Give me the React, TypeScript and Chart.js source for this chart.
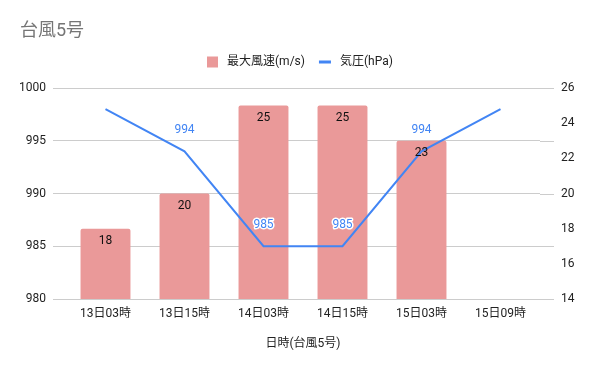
import React, { useEffect, useRef } from 'react';
import { Chart, registerables } from 'chart.js';

Chart.register(...registerables);

const chartTitle = '台風5号';
const xAxisTitle = '日時(台風5号)';
const categories = ['13日03時', '13日15時', '14日03時', '14日15時', '15日03時', '15日09時'];
const windLabel = '最大風速(m/s)';
const windSpeed: (number | null)[] = [18, 20, 25, 25, 23, null];
const pressureLabel = '気圧(hPa)';
const pressure = [998, 994, 985, 985, 994, 998];
const pressureLabelShown = [false, true, true, true, true, false];
const pressureRange = { min: 980, max: 1000, step: 5 };
const windRange = { min: 14, max: 26, step: 2 };

const FONT = "Roboto, 'Noto Sans CJK JP', sans-serif";
const BAR_COLOR = '#ea9999';
const LINE_COLOR = '#4285f4';
const GRID_COLOR = '#cccccc';
const TEXT_COLOR = '#222222';

const decorPlugin = {
  id: 'decor',
  afterDraw(chart: any) {
    const ctx = chart.ctx as CanvasRenderingContext2D;
    const area = chart.chartArea;
    const yScale = chart.scales.y;
    ctx.save();

    // extend grid lines to the right side
    ctx.strokeStyle = GRID_COLOR;
    ctx.lineWidth = 1;
    yScale.ticks.forEach((t: any) => {
      const y = Math.round(yScale.getPixelForValue(t.value)) + 0.5;
      ctx.beginPath();
      ctx.moveTo(area.right, y);
      ctx.lineTo(area.right + 14, y);
      ctx.stroke();
    });

    // bar value labels
    ctx.font = `12px ${FONT}`;
    ctx.textAlign = 'center';
    ctx.textBaseline = 'middle';
    const barMeta = chart.getDatasetMeta(1);
    barMeta.data.forEach((el: any, i: number) => {
      const v = windSpeed[i];
      if (v == null) return;
      ctx.fillStyle = '#111111';
      ctx.fillText(String(v), el.x, el.y + 12);
    });

    // line value labels
    const lineMeta = chart.getDatasetMeta(0);
    lineMeta.data.forEach((el: any, i: number) => {
      if (!pressureLabelShown[i]) return;
      const txt = String(pressure[i]);
      ctx.lineWidth = 3;
      ctx.strokeStyle = '#ffffff';
      ctx.lineJoin = 'round';
      ctx.strokeText(txt, el.x, el.y - 21);
      ctx.fillStyle = LINE_COLOR;
      ctx.fillText(txt, el.x, el.y - 21);
    });

    // title
    ctx.font = `18px ${FONT}`;
    ctx.fillStyle = '#757575';
    ctx.textAlign = 'left';
    ctx.textBaseline = 'middle';
    ctx.fillText(chartTitle, 20, 31);

    // legend
    ctx.font = `12px ${FONT}`;
    const w1 = ctx.measureText(windLabel).width;
    const w2 = ctx.measureText(pressureLabel).width;
    const total = 11 + 9 + w1 + 14 + 12 + 9 + w2;
    let x = Math.round(300 - total / 2);
    const ly = 62;
    ctx.fillStyle = BAR_COLOR;
    ctx.fillRect(x, ly - 5.5, 11, 11);
    x += 20;
    ctx.fillStyle = TEXT_COLOR;
    ctx.fillText(windLabel, x, ly);
    x += w1 + 14;
    ctx.fillStyle = LINE_COLOR;
    ctx.fillRect(x, ly - 1.5, 12, 3);
    x += 21;
    ctx.fillStyle = TEXT_COLOR;
    ctx.fillText(pressureLabel, x, ly);

    ctx.restore();
  },
};

export default function App() {
  const ref = useRef<HTMLCanvasElement>(null);
  useEffect(() => {
    const chart = new Chart(ref.current as HTMLCanvasElement, {
      type: 'bar',
      data: {
        labels: categories,
        datasets: [
          {
            type: 'line',
            label: pressureLabel,
            data: pressure,
            yAxisID: 'y',
            borderColor: LINE_COLOR,
            backgroundColor: LINE_COLOR,
            borderWidth: 2,
            pointRadius: 0,
            tension: 0,
            order: 0,
          } as any,
          {
            type: 'bar',
            label: windLabel,
            data: windSpeed,
            yAxisID: 'y1',
            backgroundColor: BAR_COLOR,
            borderRadius: 2,
            barPercentage: 0.8,
            categoryPercentage: 0.79,
            order: 1,
          } as any,
        ],
      },
      options: {
        responsive: false,
        animation: false,
        layout: { padding: { top: 88, left: 0, right: 0, bottom: 0 } },
        plugins: {
          legend: { display: false },
          title: { display: false },
          tooltip: { enabled: false },
        },
        scales: {
          x: {
            grid: { display: false, drawTicks: false },
            border: { display: false },
            ticks: { padding: 8, color: TEXT_COLOR, font: { family: FONT, size: 12 }, maxRotation: 0 },
            title: {
              display: true,
              text: xAxisTitle,
              color: TEXT_COLOR,
              font: { family: FONT, size: 12 },
              padding: { top: 0, bottom: 20 },
            },
            afterFit: (s: any) => {
              s.height = 72;
            },
          },
          y: {
            position: 'left',
            min: pressureRange.min,
            max: pressureRange.max,
            ticks: {
              stepSize: pressureRange.step,
              padding: 7,
              color: TEXT_COLOR,
              font: { family: FONT, size: 12 },
              callback: (v: any) => String(v),
            },
            grid: { color: GRID_COLOR, tickColor: GRID_COLOR, tickLength: 13 },
            border: { display: false },
            afterFit: (s: any) => {
              s.width = 66;
            },
          },
          y1: {
            position: 'right',
            min: windRange.min,
            max: windRange.max,
            ticks: {
              stepSize: windRange.step,
              padding: 21,
              color: TEXT_COLOR,
              font: { family: FONT, size: 12 },
              callback: (v: any) => String(v),
            },
            grid: { display: false, drawTicks: false },
            border: { display: false },
            afterFit: (s: any) => {
              s.width = 60;
            },
          },
        },
      } as any,
      plugins: [decorPlugin],
    });
    return () => chart.destroy();
  }, []);

  return (
    <div style={{ position: 'absolute', left: 0, top: 0, width: 600, height: 371, background: '#fff' }}>
      <canvas ref={ref} width={600} height={371} style={{ width: 600, height: 371 }} />
    </div>
  );
}
